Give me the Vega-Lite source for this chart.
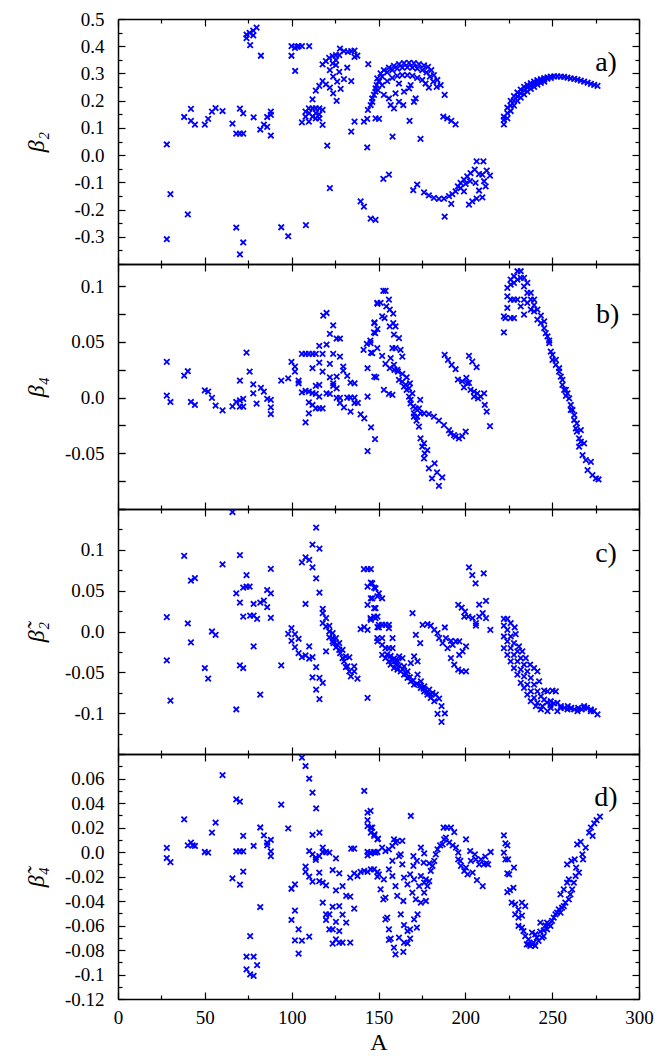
{
"$schema": "https://vega.github.io/schema/vega-lite/v6.json",
"padding": {"left": 24, "top": 10, "right": 25, "bottom": 0},
"config": {
 "view": {"stroke": null},
 "font": "Liberation Serif",
 "axis": {"grid": false, "domainColor": "black", "domainWidth": 1.5, "tickColor": "black", "tickWidth": 1.2,
  "labelColor": "black", "labelFont": "Liberation Serif", "labelFontSize": 19, "labelFlush": false, "labelOverlap": false,
  "titleColor": "black", "titleFont": "Liberation Serif", "titleFontSize": 24, "titleFontWeight": "normal"},
 "axisLeft": {"minExtent": 58, "maxExtent": 58, "labelPadding": 14, "titlePadding": 12, "labelFont": "Liberation Serif", "titleFont": "Liberation Serif"},
 "axisBottom": {"labelPadding": 9, "titlePadding": 3, "labelFont": "Liberation Serif", "titleFont": "Liberation Serif"}
},
"datasets": {
"a": [
{"A":28.1,"v":0.039},{"A":28.1,"v":-0.309},{"A":30.2,"v":-0.143},{"A":38.1,"v":0.140},{"A":40.2,"v":-0.218},{"A":42.0,"v":0.170},{"A":42.0,"v":0.126},{"A":44.3,"v":0.112},{"A":50.0,"v":0.112},{"A":51.9,"v":0.133},{"A":54.1,"v":0.160},{"A":56.2,"v":0.173},{"A":60.2,"v":0.162},{"A":65.9,"v":0.116},{"A":68.1,"v":-0.266},{"A":68.1,"v":0.079},{"A":70.2,"v":0.171},{"A":70.2,"v":0.079},{"A":72.1,"v":0.079},{"A":72.1,"v":0.153},{"A":70.2,"v":-0.365},{"A":72.1,"v":-0.321},{"A":78.1,"v":0.139},{"A":81.9,"v":0.094},{"A":84.0,"v":0.112},{"A":85.9,"v":0.104},{"A":85.9,"v":0.140},{"A":88.0,"v":0.148},{"A":88.0,"v":0.160},{"A":88.0,"v":0.072},{"A":94.0,"v":-0.265},{"A":98.0,"v":-0.298},{"A":108.2,"v":-0.257},
{"A":74.0,"v":0.443},{"A":74.0,"v":0.430},{"A":75.8,"v":0.449},{"A":77.9,"v":0.440},{"A":77.9,"v":0.457},{"A":79.8,"v":0.468},{"A":76.1,"v":0.404},{"A":82.3,"v":0.365},
{"A":99.9,"v":0.365},{"A":99.9,"v":0.400},{"A":101.9,"v":0.394},{"A":104.0,"v":0.400},{"A":105.9,"v":0.400},{"A":110.1,"v":0.400},{"A":102.0,"v":0.309},{"A":103.2,"v":0.398},
{"A":112.0,"v":0.205},{"A":105.9,"v":0.120},{"A":108.0,"v":0.160},{"A":109.9,"v":0.172},{"A":112.0,"v":0.172},{"A":113.9,"v":0.172},{"A":115.9,"v":0.172},{"A":117.8,"v":0.166},{"A":108.0,"v":0.141},{"A":109.9,"v":0.123},{"A":112.0,"v":0.141},{"A":113.9,"v":0.135},{"A":115.9,"v":0.135},{"A":117.8,"v":0.111},{"A":110.1,"v":0.154},{"A":113.9,"v":0.154},{"A":115.9,"v":0.150},
{"A":113.9,"v":0.237},{"A":115.9,"v":0.254},{"A":117.8,"v":0.272},
{"A":117.8,"v":0.333},{"A":119.7,"v":0.345},{"A":121.6,"v":0.357},{"A":123.6,"v":0.364},{"A":125.5,"v":0.367},{"A":127.4,"v":0.367},{"A":127.8,"v":0.391},{"A":130.1,"v":0.382},{"A":132.4,"v":0.379},{"A":134.3,"v":0.382},{"A":136.2,"v":0.384},{"A":137.8,"v":0.365},{"A":136.2,"v":0.361},
{"A":122.0,"v":0.312},{"A":123.9,"v":0.288},{"A":125.5,"v":0.331},{"A":126.2,"v":0.270},{"A":127.4,"v":0.306},{"A":128.2,"v":0.243},{"A":130.1,"v":0.279},{"A":132.0,"v":0.321},{"A":134.3,"v":0.272},{"A":119.7,"v":0.260},{"A":122.0,"v":0.248},{"A":123.9,"v":0.227},{"A":125.9,"v":0.199},{"A":123.6,"v":0.337},{"A":125.5,"v":0.349},
{"A":120.5,"v":0.035},{"A":122.0,"v":-0.121},{"A":134.3,"v":0.086},{"A":136.2,"v":0.123},{"A":139.7,"v":-0.170},{"A":141.6,"v":-0.189},{"A":145.5,"v":-0.233},{"A":148.3,"v":-0.238},{"A":143.5,"v":0.028},{"A":144.1,"v":0.334},{"A":141.6,"v":0.123},{"A":143.5,"v":0.133},{"A":148.3,"v":0.135},{"A":150.3,"v":0.133},
{"A":143.9,"v":0.166},{"A":145.5,"v":0.184},{"A":146.4,"v":0.196},{"A":146.4,"v":0.208},{"A":148.3,"v":0.233},{"A":148.9,"v":0.257},{"A":150.3,"v":0.272},
{"A":149.3,"v":0.282},{"A":151.2,"v":0.300},{"A":153.1,"v":0.312},{"A":156.0,"v":0.321},{"A":158.9,"v":0.328},{"A":161.8,"v":0.334},{"A":164.7,"v":0.338},{"A":167.6,"v":0.339},{"A":170.4,"v":0.338},{"A":173.3,"v":0.334},{"A":176.2,"v":0.330},{"A":178.5,"v":0.324},{"A":180.4,"v":0.312},{"A":181.9,"v":0.294},{"A":183.9,"v":0.276},{"A":185.8,"v":0.257},{"A":188.1,"v":0.221},
{"A":148.3,"v":0.245},{"A":150.2,"v":0.270},{"A":152.1,"v":0.288},{"A":155.0,"v":0.304},{"A":157.9,"v":0.312},{"A":160.8,"v":0.318},{"A":163.7,"v":0.321},{"A":166.6,"v":0.322},{"A":169.5,"v":0.321},{"A":172.3,"v":0.318},{"A":175.2,"v":0.312},{"A":177.7,"v":0.304},{"A":179.6,"v":0.288},{"A":181.5,"v":0.270},{"A":183.5,"v":0.251},
{"A":147.4,"v":0.221},{"A":149.7,"v":0.239},{"A":152.1,"v":0.257},{"A":155.0,"v":0.272},{"A":157.9,"v":0.284},{"A":160.8,"v":0.291},{"A":163.7,"v":0.294},{"A":166.6,"v":0.294},{"A":169.5,"v":0.291},{"A":172.3,"v":0.284},{"A":175.2,"v":0.276},{"A":177.1,"v":0.263},{"A":179.0,"v":0.248},
{"A":153.1,"v":0.221},{"A":156.0,"v":0.208},{"A":158.9,"v":0.172},{"A":159.8,"v":0.227},{"A":161.8,"v":0.196},{"A":164.3,"v":0.184},{"A":164.7,"v":0.233},{"A":167.6,"v":0.245},{"A":170.4,"v":0.196},{"A":171.4,"v":0.208},{"A":168.5,"v":0.257},{"A":157.0,"v":0.184},{"A":161.8,"v":0.263},
{"A":167.9,"v":0.126},{"A":158.1,"v":0.068},{"A":174.2,"v":0.060},{"A":187.3,"v":0.141},{"A":189.6,"v":0.135},{"A":191.9,"v":0.126},{"A":194.4,"v":0.113},
{"A":152.8,"v":-0.087},{"A":156.0,"v":-0.072},{"A":170.0,"v":-0.129},{"A":172.3,"v":-0.108},{"A":176.2,"v":-0.137},{"A":179.0,"v":-0.148},{"A":181.9,"v":-0.157},{"A":184.8,"v":-0.161},{"A":187.7,"v":-0.160},{"A":190.6,"v":-0.151},{"A":192.5,"v":-0.143},{"A":194.4,"v":-0.133},{"A":195.7,"v":-0.115},{"A":197.3,"v":-0.102},{"A":199.2,"v":-0.090},{"A":201.1,"v":-0.078},{"A":203.0,"v":-0.066},{"A":205.4,"v":-0.053},{"A":206.5,"v":-0.023},{"A":210.4,"v":-0.023},{"A":191.9,"v":-0.179},{"A":188.1,"v":-0.226},{"A":202.1,"v":-0.182},{"A":204.0,"v":-0.170},{"A":206.5,"v":-0.160},{"A":209.8,"v":-0.155},{"A":207.9,"v":-0.130},{"A":210.8,"v":-0.096},{"A":211.7,"v":-0.115},{"A":212.3,"v":-0.057},{"A":214.2,"v":-0.075},{"A":207.9,"v":-0.070},{"A":202.7,"v":-0.096},{"A":200.2,"v":-0.106},{"A":205.9,"v":-0.102},{"A":209.8,"v":-0.072},{"A":197.3,"v":-0.121},{"A":199.2,"v":-0.133},
{"A":222.2,"v":0.141},{"A":224.2,"v":0.174},{"A":226.1,"v":0.199},{"A":228.0,"v":0.217},{"A":230.0,"v":0.230},{"A":231.9,"v":0.241},{"A":233.8,"v":0.251},{"A":235.7,"v":0.258},{"A":237.7,"v":0.264},{"A":239.6,"v":0.270},{"A":241.5,"v":0.275},{"A":243.5,"v":0.279},{"A":245.4,"v":0.283},{"A":247.3,"v":0.286},{"A":249.2,"v":0.288},{"A":251.2,"v":0.289},{"A":253.0,"v":0.289},{"A":255.0,"v":0.288},{"A":256.9,"v":0.287},{"A":258.8,"v":0.285},{"A":260.7,"v":0.282},{"A":262.7,"v":0.280},{"A":264.6,"v":0.277},{"A":266.5,"v":0.274},{"A":268.4,"v":0.270},{"A":270.4,"v":0.266},{"A":272.3,"v":0.262},{"A":274.2,"v":0.258},{"A":276.1,"v":0.254},
{"A":222.2,"v":0.129},{"A":224.2,"v":0.154},{"A":226.1,"v":0.182},{"A":228.0,"v":0.199},{"A":230.0,"v":0.215},{"A":231.9,"v":0.227},{"A":233.8,"v":0.238},{"A":235.7,"v":0.248},{"A":237.7,"v":0.255},{"A":239.6,"v":0.262},{"A":241.5,"v":0.268},{"A":243.5,"v":0.273},{"A":245.4,"v":0.277},{"A":247.3,"v":0.281},{"A":249.2,"v":0.284},
{"A":222.2,"v":0.113},{"A":224.2,"v":0.135},{"A":226.1,"v":0.162},{"A":228.0,"v":0.182},{"A":230.0,"v":0.199},{"A":231.9,"v":0.211},{"A":233.8,"v":0.223},{"A":235.7,"v":0.233},{"A":237.7,"v":0.243},{"A":239.6,"v":0.251},{"A":241.5,"v":0.259},{"A":243.5,"v":0.265},{"A":245.4,"v":0.270}
],
"b": [
{"A":28.1,"v":0.0322},{"A":28.1,"v":0.0018},{"A":30.2,"v":-0.0039},{"A":38.1,"v":0.0198},{"A":40.2,"v":0.0237},{"A":42.0,"v":-0.0039},{"A":44.3,"v":-0.0066},{"A":50.0,"v":0.0066},{"A":51.9,"v":0.0054},{"A":54.1,"v":-0.0003},{"A":56.2,"v":-0.0072},{"A":60.2,"v":-0.0114},{"A":65.9,"v":-0.0078},{"A":68.1,"v":-0.0039},{"A":70.2,"v":-0.0024},{"A":70.2,"v":-0.0081},{"A":72.1,"v":-0.0012},{"A":72.1,"v":-0.0081},{"A":70.2,"v":0.0153},{"A":74.0,"v":0.0405},{"A":75.8,"v":0.0234},{"A":77.9,"v":0.0120},{"A":77.9,"v":0.0039},{"A":79.8,"v":-0.0054},{"A":82.3,"v":0.0087},{"A":84.0,"v":0.0054},{"A":85.9,"v":-0.0012},{"A":88.0,"v":-0.0021},{"A":88.0,"v":-0.0087},{"A":88.0,"v":-0.0147},{"A":94.0,"v":0.0153},{"A":98.0,"v":0.0174},{"A":99.9,"v":0.0322},{"A":101.9,"v":0.0279},{"A":101.9,"v":0.0234},{"A":104.0,"v":0.0153},{"A":104.0,"v":0.0129},{"A":105.9,"v":0.0048},{"A":105.9,"v":0.0393},{"A":108.0,"v":0.0393},{"A":109.9,"v":0.0393},{"A":112.0,"v":0.0393},{"A":113.9,"v":0.0393},{"A":108.0,"v":-0.0222},{"A":109.9,"v":-0.0141},{"A":109.9,"v":-0.0042},{"A":112.0,"v":-0.0066},{"A":108.0,"v":0.006},{"A":109.9,"v":0.0055},{"A":112.0,"v":0.004},{"A":113.9,"v":0.0033},{"A":113.9,"v":0.0105},{"A":115.9,"v":0.0114},{"A":115.9,"v":0.0009},{"A":113.9,"v":-0.0096},{"A":115.9,"v":-0.0096},{"A":117.8,"v":-0.0096},{"A":112.0,"v":0.0264},{"A":115.9,"v":0.0315},{"A":115.9,"v":0.0465},{"A":117.8,"v":0.0393},{"A":117.8,"v":0.0234},{"A":118.2,"v":0.0736},{"A":120.1,"v":0.0760},{"A":120.1,"v":0.0477},{"A":122.0,"v":0.0573},{"A":123.9,"v":0.0648},{"A":123.9,"v":0.0393},{"A":122.0,"v":0.0303},{"A":122.0,"v":0.0183},{"A":120.1,"v":0.0039},{"A":122.0,"v":0.0033},{"A":123.9,"v":0.0129},{"A":123.9,"v":0.0105},{"A":125.9,"v":0.0531},{"A":127.8,"v":0.0531},{"A":127.8,"v":0.0369},{"A":125.9,"v":0.0189},{"A":125.9,"v":0.0084},{"A":125.9,"v":-0.0003},{"A":127.8,"v":-0.0003},{"A":127.8,"v":-0.0048},{"A":129.7,"v":0.0279},{"A":129.7,"v":0.0243},{"A":132.0,"v":0.0195},{"A":133.9,"v":0.0135},{"A":136.2,"v":0.0129},{"A":132.0,"v":0.0},{"A":133.9,"v":0.0},{"A":136.2,"v":0.0},{"A":133.9,"v":-0.0126},{"A":136.2,"v":-0.0048},{"A":138.1,"v":-0.0048},{"A":130.1,"v":-0.0087},{"A":139.7,"v":-0.0150},{"A":141.8,"v":-0.0186},{"A":145.7,"v":-0.0267},{"A":148.0,"v":-0.0372},{"A":143.7,"v":-0.0480},{"A":143.7,"v":0.0009},{"A":143.7,"v":0.0264},{"A":141.4,"v":0.0429},{"A":143.3,"v":0.0483},{"A":145.3,"v":0.0513},{"A":145.7,"v":0.0405},{"A":147.6,"v":0.0669},{"A":148.1,"v":0.0579},{"A":149.4,"v":0.0843},{"A":149.4,"v":0.0615},{"A":148.7,"v":0.0183},{"A":147.6,"v":0.0189},
{"A":149.3,"v":0.0850},{"A":151.2,"v":0.0850},{"A":152.8,"v":0.0958},{"A":154.1,"v":0.0958},{"A":156.0,"v":0.0880},{"A":154.5,"v":0.0820},{"A":156.5,"v":0.0790},{"A":158.5,"v":0.0754},{"A":158.5,"v":0.0670},{"A":159.8,"v":0.0640},{"A":153.5,"v":0.0715},{"A":152.1,"v":0.0730},{"A":147.7,"v":0.0676},{"A":147.4,"v":0.0586},{"A":145.4,"v":0.0489},{"A":146.4,"v":0.0399},{"A":149.3,"v":0.0444},{"A":152.1,"v":0.0375},{"A":154.0,"v":0.0303},{"A":156.5,"v":0.0264},{"A":159.2,"v":0.0249},{"A":161.2,"v":0.0234},{"A":163.7,"v":0.0213},{"A":166.2,"v":0.0183},{"A":168.1,"v":0.0129},{"A":156.5,"v":0.0640},{"A":158.9,"v":0.0565},{"A":161.8,"v":0.0535},{"A":158.0,"v":0.0444},{"A":159.8,"v":0.0444},{"A":162.7,"v":0.0429},{"A":163.7,"v":0.0369},{"A":157.0,"v":0.0354},{"A":158.9,"v":0.0294},{"A":160.8,"v":0.0249},{"A":161.8,"v":0.0159},{"A":163.7,"v":0.0144},{"A":165.6,"v":0.0114},{"A":167.6,"v":0.0084},{"A":169.5,"v":0.0039},{"A":168.5,"v":-0.0021},{"A":170.0,"v":-0.0081},{"A":170.4,"v":-0.0141},{"A":172.3,"v":-0.0171},{"A":174.2,"v":-0.0141},{"A":176.2,"v":-0.0141},{"A":179.0,"v":-0.0147},{"A":181.9,"v":-0.0171},{"A":184.8,"v":-0.0207},{"A":187.7,"v":-0.0246},{"A":190.6,"v":-0.0291},{"A":193.5,"v":-0.0336},{"A":196.3,"v":-0.0366},{"A":198.2,"v":-0.0345},{"A":200.2,"v":-0.0306},{"A":194.4,"v":-0.0351},{"A":191.5,"v":-0.0321},{"A":171.9,"v":-0.0207},{"A":173.3,"v":-0.0261},{"A":174.2,"v":-0.0366},{"A":176.2,"v":-0.0411},{"A":175.2,"v":-0.0441},{"A":178.1,"v":-0.0471},{"A":176.6,"v":-0.0501},{"A":176.2,"v":-0.0546},{"A":179.0,"v":-0.0636},{"A":182.3,"v":-0.0591},{"A":180.8,"v":-0.0726},{"A":183.7,"v":-0.0672},{"A":184.8,"v":-0.0792},{"A":186.7,"v":-0.0717},{"A":168.5,"v":-0.0051},{"A":167.6,"v":0.0009},{"A":166.2,"v":0.0069},{"A":164.7,"v":0.0099},{"A":174.0,"v":-0.0021},{"A":171.4,"v":-0.0096},{"A":173.3,"v":-0.0096},{"A":170.4,"v":-0.0171},{"A":153.1,"v":0.0069},{"A":156.0,"v":0.0033},{"A":158.0,"v":0.0024},
{"A":188.1,"v":0.0384},{"A":190.0,"v":0.0339},{"A":192.1,"v":0.0294},{"A":194.4,"v":0.0255},{"A":202.1,"v":0.0375},{"A":204.0,"v":0.0324},{"A":206.5,"v":0.0273},{"A":195.7,"v":0.0162},{"A":198.2,"v":0.0147},{"A":200.6,"v":0.0177},{"A":202.1,"v":0.0132},{"A":203.0,"v":0.0069},{"A":205.0,"v":0.0054},{"A":206.9,"v":0.0039},{"A":208.8,"v":0.0009},{"A":210.8,"v":0.0039},{"A":211.2,"v":-0.0066},{"A":212.3,"v":-0.0126},{"A":214.2,"v":-0.0255},{"A":199.2,"v":0.0093},{"A":201.1,"v":0.0129},{"A":205.0,"v":0.0009},{"A":207.3,"v":-0.0006},
{"A":222.2,"v":0.0586},{"A":222.2,"v":0.0730},{"A":223.1,"v":0.0715},{"A":224.2,"v":0.0985},{"A":224.2,"v":0.0910},{"A":224.2,"v":0.0805},{"A":226.1,"v":0.1015},{"A":226.1,"v":0.0880},{"A":226.1,"v":0.0715},{"A":226.1,"v":0.1060},{"A":228.0,"v":0.1090},{"A":228.0,"v":0.1030},{"A":228.0,"v":0.0715},{"A":228.0,"v":0.0880},{"A":230.0,"v":0.1135},{"A":230.0,"v":0.1060},{"A":230.0,"v":0.0880},{"A":231.9,"v":0.1135},{"A":231.9,"v":0.1075},{"A":231.9,"v":0.0820},{"A":233.8,"v":0.1075},{"A":233.8,"v":0.1000},{"A":233.8,"v":0.0745},{"A":233.8,"v":0.0880},{"A":235.7,"v":0.1030},{"A":235.7,"v":0.0940},{"A":235.7,"v":0.0850},{"A":237.7,"v":0.0940},{"A":237.7,"v":0.0790},{"A":237.7,"v":0.0880},{"A":239.6,"v":0.0880},{"A":239.6,"v":0.0775},{"A":239.6,"v":0.0830},{"A":241.5,"v":0.0790},{"A":241.5,"v":0.0700},{"A":243.5,"v":0.0670},{"A":243.5,"v":0.0736},{"A":245.4,"v":0.0625},{"A":246.3,"v":0.0580},{"A":248.3,"v":0.0489},{"A":248.3,"v":0.0513},{"A":249.2,"v":0.0414},{"A":250.2,"v":0.0384},{"A":252.1,"v":0.0339},{"A":252.1,"v":0.0294},{"A":254.0,"v":0.0234},{"A":255.0,"v":0.0189},{"A":255.9,"v":0.0114},{"A":255.9,"v":0.0159},{"A":257.9,"v":0.0069},{"A":257.9,"v":0.0015},{"A":259.8,"v":-0.0006},{"A":260.7,"v":-0.0066},{"A":260.7,"v":-0.0111},{"A":262.7,"v":-0.0156},{"A":262.7,"v":-0.0201},{"A":264.2,"v":-0.0231},{"A":264.2,"v":-0.0306},{"A":265.5,"v":-0.0366},{"A":266.5,"v":-0.0396},{"A":265.5,"v":-0.0441},{"A":267.5,"v":-0.0516},{"A":269.4,"v":-0.0561},{"A":270.4,"v":-0.0651},{"A":272.3,"v":-0.0576},{"A":273.2,"v":-0.0696},{"A":275.2,"v":-0.0726},{"A":276.7,"v":-0.0735},{"A":258.8,"v":0.0039},{"A":261.7,"v":-0.0111},{"A":256.9,"v":0.0069},{"A":254.0,"v":0.0264},{"A":250.2,"v":0.0339},{"A":247.3,"v":0.0550},{"A":245.4,"v":0.0685},{"A":263.6,"v":-0.0276},{"A":266.5,"v":-0.0291},{"A":268.4,"v":-0.0411}
],
"c": [
{"A":28.1,"v":0.0175},{"A":28.1,"v":-0.0354},{"A":30.2,"v":-0.0846},{"A":38.1,"v":0.0927},{"A":40.2,"v":0.0098},{"A":42.0,"v":0.0622},{"A":44.3,"v":0.0654},{"A":42.0,"v":-0.0134},{"A":50.0,"v":-0.0447},{"A":51.9,"v":-0.0577},{"A":54.1,"v":0.0},{"A":56.2,"v":-0.0041},{"A":60.2,"v":0.0821},{"A":65.9,"v":0.1463},{"A":68.1,"v":0.0467},{"A":68.1,"v":-0.0955},{"A":70.2,"v":0.0935},{"A":70.2,"v":0.0354},{"A":70.2,"v":-0.0415},{"A":72.1,"v":0.0183},{"A":72.1,"v":-0.0447},{"A":72.1,"v":0.0537},{"A":74.0,"v":0.0691},{"A":74.0,"v":0.0549},{"A":75.8,"v":0.0549},{"A":76.1,"v":0.0195},{"A":78.1,"v":0.0195},{"A":78.1,"v":0.0337},{"A":78.1,"v":-0.0183},{"A":80.1,"v":0.0154},{"A":81.9,"v":0.0354},{"A":81.9,"v":-0.0772},{"A":84.0,"v":0.0378},{"A":85.9,"v":0.0508},{"A":85.9,"v":0.0297},{"A":88.0,"v":0.0467},{"A":88.0,"v":0.0167},{"A":88.0,"v":0.0768},{"A":94.0,"v":-0.0415},{"A":98.0,"v":-0.0028},{"A":99.9,"v":0.0041},{"A":99.9,"v":-0.0114},{"A":101.9,"v":-0.0032},{"A":101.9,"v":-0.0191},{"A":104.0,"v":-0.0089},{"A":104.0,"v":-0.0264},{"A":105.9,"v":0.0846},{"A":105.9,"v":-0.0313},{"A":108.0,"v":0.0907},{"A":108.0,"v":0.0337},{"A":108.0,"v":-0.0293},{"A":110.1,"v":0.0878},{"A":110.1,"v":-0.0183},{"A":110.1,"v":-0.0333},{"A":112.0,"v":0.1065},{"A":112.0,"v":0.0785},{"A":112.0,"v":-0.0313},{"A":112.0,"v":-0.0561},{"A":114.1,"v":0.1272},{"A":114.1,"v":0.0650},{"A":114.1,"v":-0.0435},{"A":114.1,"v":-0.0711},{"A":116.0,"v":0.1016},{"A":116.0,"v":0.0475},{"A":116.0,"v":-0.0569},{"A":116.0,"v":-0.0829},{"A":117.9,"v":0.0276},{"A":117.9,"v":0.0224},{"A":117.9,"v":0.0102},{"A":117.9,"v":-0.0630},{"A":119.8,"v":0.0163},{"A":119.8,"v":0.0061},{"A":119.8,"v":-0.0244},{"A":121.7,"v":0.0069},{"A":121.7,"v":-0.0073},{"A":121.7,"v":0.0},{"A":123.6,"v":-0.0020},{"A":123.6,"v":-0.0081},{"A":123.6,"v":-0.0122},{"A":125.5,"v":-0.0081},{"A":125.5,"v":-0.0195},{"A":127.4,"v":-0.0142},{"A":127.4,"v":-0.0224},{"A":129.3,"v":-0.0224},{"A":129.3,"v":-0.0325},{"A":131.2,"v":-0.0305},{"A":131.2,"v":-0.0435},{"A":133.2,"v":-0.0317},{"A":133.2,"v":-0.0488},{"A":134.1,"v":-0.0549},{"A":136.0,"v":-0.0427},{"A":136.0,"v":-0.0488},{"A":137.9,"v":-0.0577},{"A":124.1,"v":-0.0142},{"A":126.4,"v":-0.0163},{"A":127.9,"v":-0.0264},{"A":130.2,"v":-0.0366},{"A":132.1,"v":-0.0427},{"A":139.7,"v":0.0028},{"A":141.8,"v":0.0053},{"A":143.7,"v":0.0020},{"A":143.7,"v":-0.0813},{"A":141.6,"v":0.0764},{"A":143.7,"v":0.0764},{"A":145.6,"v":0.0764},{"A":143.7,"v":0.0549},{"A":145.6,"v":0.0598},{"A":147.5,"v":0.0537},{"A":143.7,"v":0.0325},{"A":145.6,"v":0.0407},{"A":147.5,"v":0.0285},{"A":145.6,"v":0.0142},{"A":147.5,"v":0.0183},{"A":149.4,"v":0.0183},{"A":149.4,"v":0.0053},{"A":149.4,"v":-0.0122},{"A":149.4,"v":0.0431},
{"A":146.4,"v":0.0589},{"A":148.3,"v":0.0528},{"A":150.2,"v":0.0467},{"A":152.1,"v":0.0407},{"A":148.3,"v":0.0285},{"A":146.4,"v":0.0407},{"A":145.4,"v":0.0163},{"A":148.3,"v":0.0163},{"A":150.2,"v":0.0081},{"A":152.1,"v":0.0081},{"A":154.0,"v":0.0081},{"A":156.0,"v":0.0081},{"A":156.0,"v":0.0041},{"A":150.2,"v":0.0049},{"A":149.3,"v":-0.0081},{"A":152.1,"v":-0.0081},{"A":158.1,"v":-0.0081},{"A":152.1,"v":-0.0163},{"A":154.0,"v":-0.0203},{"A":156.0,"v":-0.0203},{"A":158.1,"v":-0.0203},{"A":152.1,"v":-0.0285},{"A":154.0,"v":-0.0325},{"A":156.0,"v":-0.0366},{"A":158.1,"v":-0.0346},{"A":159.9,"v":-0.0366},{"A":161.9,"v":-0.0305},{"A":163.8,"v":-0.0325},{"A":157.0,"v":-0.0407},{"A":158.9,"v":-0.0447},{"A":160.9,"v":-0.0468},{"A":162.8,"v":-0.0488},{"A":164.7,"v":-0.0528},{"A":164.7,"v":-0.0427},{"A":166.7,"v":-0.0488},{"A":166.7,"v":-0.0569},{"A":168.6,"v":-0.0610},{"A":168.6,"v":-0.0386},{"A":170.5,"v":-0.0305},{"A":172.5,"v":-0.0366},{"A":172.5,"v":-0.0528},{"A":170.5,"v":-0.0650},{"A":174.4,"v":-0.0691},{"A":174.4,"v":-0.0610},{"A":176.3,"v":-0.0732},{"A":176.3,"v":-0.0671},{"A":178.2,"v":-0.0772},{"A":179.2,"v":-0.0711},{"A":180.1,"v":-0.0813},{"A":181.1,"v":-0.0752},{"A":182.1,"v":-0.0854},{"A":183.0,"v":-0.0772},{"A":184.0,"v":-0.1008},{"A":184.9,"v":-0.0821},{"A":186.3,"v":-0.0915},{"A":186.3,"v":-0.1106},{"A":188.2,"v":-0.1004},
{"A":160.0,"v":-0.0400},{"A":162.0,"v":-0.0420},{"A":164.0,"v":-0.0460},{"A":166.0,"v":-0.0520},{"A":168.0,"v":-0.0560},{"A":170.0,"v":-0.0600},{"A":172.0,"v":-0.0640},{"A":174.0,"v":-0.0660},{"A":176.0,"v":-0.0700},{"A":178.0,"v":-0.0740},{"A":180.0,"v":-0.0770},{"A":155.0,"v":-0.0280},{"A":157.0,"v":-0.0300},{"A":159.0,"v":-0.0330},{"A":161.0,"v":-0.0360},
{"A":169.6,"v":0.0224},{"A":171.5,"v":-0.0041},{"A":174.0,"v":-0.0142},{"A":175.4,"v":0.0081},{"A":178.2,"v":0.0089},{"A":180.1,"v":0.0073},{"A":182.1,"v":0.0020},{"A":184.0,"v":-0.0020},{"A":184.9,"v":-0.0081},{"A":186.9,"v":-0.0142},{"A":188.2,"v":0.0049},{"A":188.8,"v":-0.0081},{"A":189.8,"v":-0.0203},{"A":191.7,"v":-0.0114},{"A":191.7,"v":-0.0325},{"A":192.7,"v":-0.0163},{"A":193.6,"v":-0.0407},{"A":194.6,"v":-0.0122},{"A":195.9,"v":-0.0468},{"A":196.5,"v":-0.0285},{"A":196.5,"v":-0.0122},{"A":197.9,"v":-0.0488},{"A":198.4,"v":-0.0244},{"A":200.4,"v":-0.0488},{"A":200.4,"v":-0.0183},{"A":195.9,"v":0.0325},{"A":197.9,"v":0.0293},{"A":199.8,"v":0.0244},{"A":201.7,"v":0.0183},{"A":199.4,"v":0.0183},{"A":204.2,"v":0.0163},{"A":206.1,"v":0.0102},{"A":208.0,"v":0.0183},{"A":206.1,"v":0.0073},{"A":210.0,"v":0.0224},{"A":211.9,"v":0.0163},{"A":211.9,"v":0.0374},{"A":214.4,"v":0.0020},{"A":208.0,"v":0.0329},{"A":202.1,"v":0.0785},{"A":204.0,"v":0.0691},{"A":205.9,"v":0.0589},{"A":210.6,"v":0.0711},
{"A":222.2,"v":0.0154},{"A":224.2,"v":0.0154},{"A":226.1,"v":0.0102},{"A":228.4,"v":0.0049},{"A":229.0,"v":-0.0033},{"A":230.9,"v":-0.0183},{"A":232.8,"v":-0.0244},{"A":234.8,"v":-0.0325},{"A":237.3,"v":-0.0407},{"A":239.6,"v":-0.0447},{"A":241.5,"v":-0.0488},{"A":242.5,"v":-0.0610},{"A":245.4,"v":-0.0724},{"A":247.3,"v":-0.0732},{"A":250.2,"v":-0.0724},{"A":252.1,"v":-0.0732},
{"A":222.2,"v":0.0073},{"A":224.2,"v":0.0020},{"A":226.1,"v":-0.0061},{"A":228.0,"v":-0.0142},{"A":230.0,"v":-0.0244},{"A":231.9,"v":-0.0325},{"A":233.8,"v":-0.0407},{"A":235.7,"v":-0.0488},{"A":237.7,"v":-0.0569},{"A":239.6,"v":-0.0650},{"A":241.5,"v":-0.0732},{"A":243.5,"v":-0.0793},{"A":245.4,"v":-0.0834},{"A":249.2,"v":-0.0854},{"A":253.0,"v":-0.0874},
{"A":222.2,"v":-0.0061},{"A":224.2,"v":-0.0122},{"A":226.1,"v":-0.0203},{"A":228.0,"v":-0.0285},{"A":230.0,"v":-0.0366},{"A":231.9,"v":-0.0468},{"A":233.8,"v":-0.0549},{"A":235.7,"v":-0.0650},{"A":237.7,"v":-0.0732},{"A":239.6,"v":-0.0813},{"A":241.5,"v":-0.0874},{"A":244.4,"v":-0.0915},{"A":249.2,"v":-0.0935},{"A":255.0,"v":-0.0935},{"A":260.7,"v":-0.0943},{"A":264.6,"v":-0.0976},{"A":268.4,"v":-0.0915},{"A":272.3,"v":-0.0976},{"A":276.1,"v":-0.1016},
{"A":222.2,"v":-0.0203},{"A":224.2,"v":-0.0285},{"A":226.1,"v":-0.0366},{"A":228.0,"v":-0.0447},{"A":230.0,"v":-0.0528},{"A":231.9,"v":-0.0630},{"A":233.8,"v":-0.0691},{"A":235.7,"v":-0.0772},{"A":237.7,"v":-0.0854},{"A":240.6,"v":-0.0915},{"A":243.5,"v":-0.0955},{"A":247.3,"v":-0.0976},{"A":253.0,"v":-0.0976},{"A":258.8,"v":-0.0955},{"A":262.7,"v":-0.0955},{"A":268.4,"v":-0.0935},{"A":272.3,"v":-0.0955},
{"A":255.0,"v":-0.0915},{"A":257.0,"v":-0.0935},{"A":259.0,"v":-0.0915},{"A":261.0,"v":-0.0935},{"A":265.0,"v":-0.0935},{"A":267.0,"v":-0.0955},{"A":270.0,"v":-0.0935},{"A":274.0,"v":-0.0976},{"A":249.0,"v":-0.0900},{"A":251.0,"v":-0.0880},{"A":247.0,"v":-0.0870}
],
"d": [
{"A":28.1,"v":0.0033},{"A":28.1,"v":-0.0049},{"A":30.2,"v":-0.0082},{"A":38.1,"v":0.0267},{"A":40.2,"v":0.0054},{"A":42.0,"v":0.0076},{"A":43.0,"v":0.0054},{"A":44.3,"v":0.0049},{"A":50.0,"v":0.0},{"A":51.9,"v":-0.0005},{"A":54.1,"v":0.0158},{"A":56.2,"v":0.0239},{"A":60.2,"v":0.0628},{"A":65.9,"v":-0.0215},{"A":68.1,"v":0.0430},{"A":70.2,"v":0.0411},{"A":68.1,"v":0.0005},{"A":70.2,"v":0.0005},{"A":72.1,"v":0.0005},{"A":70.2,"v":-0.0267},{"A":72.1,"v":0.0131},{"A":72.1,"v":-0.0160},{"A":74.0,"v":-0.0855},{"A":74.0,"v":-0.0958},{"A":76.1,"v":-0.0686},{"A":76.1,"v":-0.0999},{"A":78.1,"v":-0.0855},{"A":78.1,"v":-0.1012},{"A":80.1,"v":-0.0923},{"A":78.1,"v":0.0049},{"A":81.9,"v":0.0200},{"A":84.0,"v":0.0136},{"A":85.9,"v":0.0054},{"A":85.9,"v":0.0076},{"A":88.0,"v":0.0098},{"A":88.0,"v":0.0005},{"A":88.0,"v":-0.0033},{"A":81.9,"v":-0.0449},{"A":94.0,"v":0.0386},{"A":98.0,"v":0.0193},{"A":99.9,"v":-0.0300},{"A":101.9,"v":-0.0264},{"A":99.9,"v":-0.0555},{"A":101.9,"v":-0.0479},{"A":101.9,"v":-0.0721},{"A":104.0,"v":-0.0631},{"A":104.0,"v":-0.0830},{"A":105.9,"v":-0.0724},{"A":105.9,"v":0.0770},{"A":108.0,"v":0.0702},{"A":110.1,"v":0.0598},{"A":112.0,"v":0.0484},{"A":114.1,"v":0.0356},{"A":112.0,"v":0.0139},{"A":116.0,"v":0.0158},{"A":110.1,"v":-0.0691},{"A":108.0,"v":-0.0120},{"A":108.0,"v":-0.0163},{"A":110.1,"v":-0.0202},{"A":110.1,"v":0.0008},{"A":112.0,"v":-0.0019},{"A":112.0,"v":-0.0242},{"A":113.9,"v":-0.0046},{"A":113.9,"v":-0.0065},{"A":115.9,"v":-0.0033},{"A":115.9,"v":-0.0169},{"A":115.9,"v":-0.0237},{"A":117.9,"v":0.0035},{"A":117.9,"v":0.0},{"A":119.8,"v":0.0},{"A":121.7,"v":-0.0005},{"A":117.9,"v":-0.0251},{"A":117.9,"v":-0.0414},{"A":119.8,"v":-0.0272},{"A":119.8,"v":-0.0509},{"A":119.8,"v":-0.0555},{"A":121.7,"v":-0.0509},{"A":121.7,"v":-0.0631},{"A":123.6,"v":-0.0147},{"A":123.6,"v":-0.0447},{"A":123.6,"v":-0.0631},{"A":123.6,"v":-0.0748},{"A":125.5,"v":-0.0052},{"A":125.5,"v":-0.0313},{"A":125.5,"v":-0.0571},{"A":125.5,"v":-0.0713},{"A":127.4,"v":-0.0174},{"A":127.4,"v":-0.0441},{"A":127.4,"v":-0.0645},{"A":127.4,"v":-0.0740},{"A":129.3,"v":-0.0278},{"A":129.3,"v":-0.0512},{"A":129.3,"v":-0.0740},{"A":131.4,"v":-0.0359},{"A":131.4,"v":-0.0577},{"A":133.7,"v":-0.0365},{"A":133.7,"v":-0.0740},{"A":133.7,"v":-0.0210},{"A":136.0,"v":-0.0174},{"A":136.0,"v":-0.0463},{"A":134.3,"v":0.0027},{"A":136.0,"v":0.0027},{"A":137.9,"v":-0.0196},{"A":139.7,"v":-0.0163},{"A":141.8,"v":0.0498},{"A":143.7,"v":0.0321},{"A":143.7,"v":0.0261},{"A":143.7,"v":0.0212},{"A":145.6,"v":0.0199},{"A":145.6,"v":0.0158},{"A":147.5,"v":0.0131},{"A":149.4,"v":0.0103},{"A":143.7,"v":0.0},{"A":143.7,"v":-0.0027},{"A":145.6,"v":-0.0011},{"A":147.5,"v":0.0},{"A":149.4,"v":0.0},{"A":145.6,"v":-0.0141},{"A":143.7,"v":-0.0163},{"A":141.8,"v":-0.0155},{"A":149.4,"v":-0.0163},{"A":149.4,"v":-0.0201},
{"A":145.4,"v":0.0335},{"A":146.4,"v":0.0199},{"A":147.7,"v":0.0144},{"A":149.7,"v":0.0109},{"A":145.4,"v":-0.0005},{"A":148.3,"v":-0.0005},{"A":147.4,"v":-0.0141},{"A":150.2,"v":-0.0182},{"A":152.1,"v":0.0035},{"A":154.0,"v":0.0008},{"A":156.0,"v":0.0022},{"A":158.0,"v":0.0049},{"A":158.9,"v":0.0103},{"A":153.1,"v":-0.0223},{"A":151.2,"v":-0.0305},{"A":152.8,"v":-0.0386},{"A":154.0,"v":-0.0373},{"A":154.0,"v":-0.0550},{"A":155.0,"v":-0.0536},{"A":156.0,"v":-0.0631},{"A":157.0,"v":-0.0707},{"A":156.0,"v":-0.0718},{"A":158.9,"v":-0.0781},{"A":159.8,"v":-0.0835},{"A":158.0,"v":-0.0073},{"A":156.0,"v":-0.0141},{"A":158.0,"v":-0.0196},{"A":159.8,"v":-0.0278},{"A":160.8,"v":-0.0359},{"A":161.8,"v":-0.0033},{"A":162.8,"v":-0.0019},{"A":159.8,"v":0.0076},{"A":160.8,"v":0.0090},{"A":163.7,"v":0.0090},{"A":163.7,"v":-0.0101},{"A":164.7,"v":-0.0210},{"A":164.3,"v":-0.0400},{"A":162.8,"v":-0.0509},{"A":161.8,"v":-0.0699},{"A":164.3,"v":-0.0816},{"A":164.7,"v":-0.0596},{"A":164.7,"v":-0.0740},{"A":166.7,"v":-0.0645},{"A":166.7,"v":-0.0746},{"A":168.2,"v":-0.0631},{"A":168.2,"v":-0.0707},{"A":166.7,"v":-0.0264},{"A":168.2,"v":-0.0182},{"A":168.6,"v":0.0294},{"A":170.1,"v":-0.0033},{"A":170.1,"v":-0.0114},{"A":169.5,"v":-0.0332},{"A":170.5,"v":-0.0223},{"A":171.5,"v":-0.0386},{"A":170.5,"v":-0.0550},{"A":172.1,"v":-0.0618},{"A":172.5,"v":-0.0509},{"A":173.4,"v":-0.0278},{"A":174.4,"v":0.0035},{"A":174.4,"v":-0.0196},{"A":174.4,"v":-0.0414},{"A":176.0,"v":-0.0087},{"A":176.3,"v":-0.0250},{"A":176.3,"v":-0.0332},{"A":177.3,"v":-0.0223},{"A":178.2,"v":-0.0278},{"A":177.3,"v":-0.0400},{"A":179.2,"v":-0.0237},{"A":180.1,"v":-0.0155},{"A":181.1,"v":-0.0114},{"A":182.1,"v":-0.0073},{"A":183.0,"v":-0.0019},{"A":184.0,"v":0.0022},{"A":185.5,"v":0.0054},{"A":186.9,"v":0.0063},{"A":187.8,"v":0.0103},{"A":187.5,"v":0.0199},{"A":189.4,"v":0.0199},{"A":191.7,"v":0.0199},{"A":193.6,"v":0.0163},{"A":188.8,"v":0.0117},{"A":190.7,"v":0.0076},{"A":192.7,"v":0.0054},{"A":194.6,"v":0.0035},{"A":195.9,"v":-0.0005},{"A":195.9,"v":-0.0060},{"A":197.1,"v":-0.0073},{"A":197.5,"v":-0.0114},{"A":199.4,"v":-0.0155},{"A":200.4,"v":0.0103},{"A":200.4,"v":-0.0128},{"A":201.3,"v":-0.0182},{"A":202.8,"v":0.0008},{"A":203.2,"v":-0.0073},{"A":204.2,"v":-0.0169},{"A":205.5,"v":-0.0019},{"A":206.1,"v":-0.0060},{"A":206.7,"v":-0.0229},{"A":208.0,"v":-0.0101},{"A":209.0,"v":-0.0060},{"A":210.0,"v":-0.0278},{"A":210.6,"v":-0.0101},{"A":211.5,"v":-0.0038},{"A":212.1,"v":-0.0092},{"A":213.1,"v":-0.0101},{"A":214.6,"v":0.0},{"A":172.1,"v":-0.0073},{"A":179.2,"v":-0.0092},{"A":176.3,"v":-0.0011},
{"A":222.2,"v":0.0136},{"A":223.1,"v":0.0071},{"A":224.2,"v":0.0054},{"A":222.2,"v":-0.0005},{"A":223.1,"v":-0.0060},{"A":224.6,"v":-0.0060},{"A":228.0,"v":-0.0128},{"A":224.2,"v":-0.0174},{"A":225.2,"v":-0.0182},{"A":224.2,"v":-0.0327},{"A":225.7,"v":-0.0311},{"A":227.7,"v":-0.0292},{"A":226.7,"v":-0.0414},{"A":228.7,"v":-0.0427},{"A":232.6,"v":-0.0414},{"A":234.5,"v":-0.0441},{"A":228.7,"v":-0.0509},{"A":230.6,"v":-0.0536},{"A":230.6,"v":-0.0604},{"A":232.6,"v":-0.0618},{"A":233.5,"v":-0.0645},{"A":234.5,"v":-0.0686},{"A":236.4,"v":-0.0713},{"A":238.4,"v":-0.0754},{"A":240.3,"v":-0.0767},{"A":235.4,"v":-0.0754},{"A":237.4,"v":-0.0767},{"A":242.2,"v":-0.0726},{"A":244.2,"v":-0.0699},{"A":238.4,"v":-0.0659},{"A":240.3,"v":-0.0673},{"A":243.2,"v":-0.0577},{"A":245.1,"v":-0.0686},{"A":247.1,"v":-0.0631},{"A":247.1,"v":-0.0577},{"A":249.0,"v":-0.0604},{"A":249.9,"v":-0.0563},{"A":250.9,"v":-0.0536},{"A":251.9,"v":-0.0509},{"A":252.8,"v":-0.0495},{"A":253.8,"v":-0.0468},{"A":254.8,"v":-0.0495},{"A":255.7,"v":-0.0455},{"A":256.7,"v":-0.0441},{"A":254.8,"v":-0.0346},{"A":256.7,"v":-0.0305},{"A":258.6,"v":-0.0251},{"A":259.6,"v":-0.0223},{"A":257.6,"v":-0.0414},{"A":259.6,"v":-0.0386},{"A":260.5,"v":-0.0346},{"A":261.5,"v":-0.0305},{"A":262.5,"v":-0.0251},{"A":263.5,"v":-0.0196},{"A":263.8,"v":-0.0128},{"A":265.4,"v":-0.0169},{"A":258.6,"v":-0.0101},{"A":261.1,"v":-0.0073},{"A":263.0,"v":-0.0060},{"A":264.4,"v":0.0063},{"A":266.4,"v":0.0082},{"A":267.4,"v":-0.0019},{"A":267.8,"v":-0.0060},{"A":269.3,"v":0.0035},{"A":271.3,"v":0.0158},{"A":272.3,"v":0.0199},{"A":273.3,"v":0.0131},{"A":274.2,"v":0.0234},{"A":275.6,"v":0.0261},{"A":277.5,"v":0.0289},{"A":236.4,"v":-0.0754},{"A":239.3,"v":-0.0740},{"A":241.2,"v":-0.0700},{"A":245.1,"v":-0.0640},{"A":248.0,"v":-0.0590},{"A":243.2,"v":-0.0650},{"A":246.1,"v":-0.0600},{"A":230.6,"v":-0.0470},{"A":232.6,"v":-0.0520}
]
},
"spacing": 0,
"bounds": "flush",
"vconcat": [
{
 "width": 521, "height": 245,
 "data": {"name": "a"},
 "layer": [
  {"mark": {"type": "point", "shape": "M-1,-1L1,1M-1,1L1,-1", "filled": false, "color": "#0000ff", "strokeWidth": 1.8, "size": 30, "opacity": 1, "clip": true},
   "encoding": {
    "x": {"field": "A", "type": "quantitative", "scale": {"domain": [0, 300], "nice": false, "zero": false}, "axis": {"orient": "bottom", "ticks": false, "labels": false, "title": null, "domain": true}},
    "y": {"field": "v", "type": "quantitative", "scale": {"domain": [-0.4, 0.5], "nice": false, "zero": false}, "axis": {"orient": "left", "ticks": false, "domain": true, "values": [-0.3, -0.2, -0.1, 0, 0.1, 0.2, 0.3, 0.4, 0.5], "labelFont": "Liberation Serif", "labelExpr": "datum.value == 0 ? '0.0' : replace(format(datum.value, '~g'), '\u2212', '-')", "title": "β₂", "titleFont": "Liberation Serif", "titleFontStyle": "italic"}}
   }},
  {"mark": {"type": "point", "opacity": 0},
   "encoding": {
    "x": {"field": "A", "type": "quantitative", "scale": {"domain": [0, 300], "nice": false, "zero": false}, "axis": {"orient": "bottom", "values": [0, 50, 100, 150, 200, 250, 300], "tickSize": -7, "labels": false, "domain": false, "title": null}},
    "y": {"field": "v", "type": "quantitative", "scale": {"domain": [-0.4, 0.5], "nice": false, "zero": false}, "axis": {"orient": "left", "values": [-0.4, -0.3, -0.2, -0.1, 0, 0.1, 0.2, 0.3, 0.4, 0.5], "tickSize": -7, "labels": false, "domain": false, "title": null}}
   }},
  {"mark": {"type": "point", "opacity": 0},
   "encoding": {
    "x": {"field": "A", "type": "quantitative", "scale": {"domain": [0, 300], "nice": false, "zero": false}, "axis": {"orient": "bottom", "values": [25, 75, 125, 175, 225, 275], "tickSize": -4, "labels": false, "domain": false, "title": null}},
    "y": {"field": "v", "type": "quantitative", "scale": {"domain": [-0.4, 0.5], "nice": false, "zero": false}, "axis": {"orient": "left", "values": [-0.35, -0.25, -0.15, -0.05, 0.05, 0.15, 0.25, 0.35, 0.45], "tickSize": -4, "labels": false, "domain": false, "title": null}}
   }},
  {"mark": {"type": "point", "opacity": 0},
   "encoding": {
    "x": {"field": "A", "type": "quantitative", "scale": {"domain": [0, 300], "nice": false, "zero": false}, "axis": {"orient": "top", "values": [0, 50, 100, 150, 200, 250, 300], "tickSize": -7, "labels": false, "domain": true, "title": null}},
    "y": {"field": "v", "type": "quantitative", "scale": {"domain": [-0.4, 0.5], "nice": false, "zero": false}, "axis": {"orient": "right", "values": [-0.4, -0.3, -0.2, -0.1, 0, 0.1, 0.2, 0.3, 0.4, 0.5], "tickSize": -7, "labels": false, "domain": true, "title": null}}
   }},
  {"mark": {"type": "point", "opacity": 0},
   "encoding": {
    "x": {"field": "A", "type": "quantitative", "scale": {"domain": [0, 300], "nice": false, "zero": false}, "axis": {"orient": "top", "values": [25, 75, 125, 175, 225, 275], "tickSize": -4, "labels": false, "domain": false, "title": null}},
    "y": {"field": "v", "type": "quantitative", "scale": {"domain": [-0.4, 0.5], "nice": false, "zero": false}, "axis": {"orient": "right", "values": [-0.35, -0.25, -0.15, -0.05, 0.05, 0.15, 0.25, 0.35, 0.45], "tickSize": -4, "labels": false, "domain": false, "title": null}}
   }},
  {"data": {"values": [{"A": 281, "v": 0.337, "t": "a)"}]},
   "mark": {"type": "text", "font": "Liberation Serif", "fontSize": 28, "align": "center", "baseline": "middle", "color": "black"},
   "encoding": {
    "x": {"field": "A", "type": "quantitative", "scale": {"domain": [0, 300], "nice": false, "zero": false}, "axis": null},
    "y": {"field": "v", "type": "quantitative", "scale": {"domain": [-0.4, 0.5], "nice": false, "zero": false}, "axis": null},
    "text": {"field": "t"}
   }}
 ],
 "resolve": {"axis": {"x": "independent", "y": "independent"}}
},
{
 "width": 521, "height": 245,
 "data": {"name": "b"},
 "layer": [
  {"mark": {"type": "point", "shape": "M-1,-1L1,1M-1,1L1,-1", "filled": false, "color": "#0000ff", "strokeWidth": 1.8, "size": 30, "opacity": 1, "clip": true},
   "encoding": {
    "x": {"field": "A", "type": "quantitative", "scale": {"domain": [0, 300], "nice": false, "zero": false}, "axis": {"orient": "bottom", "ticks": false, "labels": false, "title": null, "domain": true}},
    "y": {"field": "v", "type": "quantitative", "scale": {"domain": [-0.1, 0.12], "nice": false, "zero": false}, "axis": {"orient": "left", "ticks": false, "domain": true, "values": [-0.05, 0, 0.05, 0.1], "labelFont": "Liberation Serif", "labelExpr": "datum.value == 0 ? '0.0' : replace(format(datum.value, '~g'), '\u2212', '-')", "title": "β₄", "titleFont": "Liberation Serif", "titleFontStyle": "italic"}}
   }},
  {"mark": {"type": "point", "opacity": 0},
   "encoding": {
    "x": {"field": "A", "type": "quantitative", "scale": {"domain": [0, 300], "nice": false, "zero": false}, "axis": {"orient": "bottom", "values": [0, 50, 100, 150, 200, 250, 300], "tickSize": -7, "labels": false, "domain": false, "title": null}},
    "y": {"field": "v", "type": "quantitative", "scale": {"domain": [-0.1, 0.12], "nice": false, "zero": false}, "axis": {"orient": "left", "values": [-0.1, -0.075, -0.05, -0.025, 0, 0.025, 0.05, 0.075, 0.1], "tickSize": -7, "labels": false, "domain": false, "title": null}}
   }},
  {"mark": {"type": "point", "opacity": 0},
   "encoding": {
    "x": {"field": "A", "type": "quantitative", "scale": {"domain": [0, 300], "nice": false, "zero": false}, "axis": {"orient": "bottom", "values": [25, 75, 125, 175, 225, 275], "tickSize": -4, "labels": false, "domain": false, "title": null}},
    "y": {"field": "v", "type": "quantitative", "scale": {"domain": [-0.1, 0.12], "nice": false, "zero": false}, "axis": {"orient": "left", "values": [-0.1, -0.075, -0.05, -0.025, 0, 0.025, 0.05, 0.075, 0.1], "tickSize": -7, "labels": false, "domain": false, "title": null}}
   }},
  {"mark": {"type": "point", "opacity": 0},
   "encoding": {
    "x": {"field": "A", "type": "quantitative", "scale": {"domain": [0, 300], "nice": false, "zero": false}, "axis": {"orient": "top", "values": [0, 50, 100, 150, 200, 250, 300], "tickSize": -7, "labels": false, "domain": true, "title": null}},
    "y": {"field": "v", "type": "quantitative", "scale": {"domain": [-0.1, 0.12], "nice": false, "zero": false}, "axis": {"orient": "right", "values": [-0.1, -0.075, -0.05, -0.025, 0, 0.025, 0.05, 0.075, 0.1], "tickSize": -7, "labels": false, "domain": true, "title": null}}
   }},
  {"mark": {"type": "point", "opacity": 0},
   "encoding": {
    "x": {"field": "A", "type": "quantitative", "scale": {"domain": [0, 300], "nice": false, "zero": false}, "axis": {"orient": "top", "values": [25, 75, 125, 175, 225, 275], "tickSize": -4, "labels": false, "domain": false, "title": null}},
    "y": {"field": "v", "type": "quantitative", "scale": {"domain": [-0.1, 0.12], "nice": false, "zero": false}, "axis": {"orient": "right", "values": [-0.1, -0.075, -0.05, -0.025, 0, 0.025, 0.05, 0.075, 0.1], "tickSize": -7, "labels": false, "domain": false, "title": null}}
   }},
  {"data": {"values": [{"A": 282, "v": 0.0745, "t": "b)"}]},
   "mark": {"type": "text", "font": "Liberation Serif", "fontSize": 28, "align": "center", "baseline": "middle", "color": "black"},
   "encoding": {
    "x": {"field": "A", "type": "quantitative", "scale": {"domain": [0, 300], "nice": false, "zero": false}, "axis": null},
    "y": {"field": "v", "type": "quantitative", "scale": {"domain": [-0.1, 0.12], "nice": false, "zero": false}, "axis": null},
    "text": {"field": "t"}
   }}
 ],
 "resolve": {"axis": {"x": "independent", "y": "independent"}}
},
{
 "width": 521, "height": 245,
 "data": {"name": "c"},
 "layer": [
  {"mark": {"type": "point", "shape": "M-1,-1L1,1M-1,1L1,-1", "filled": false, "color": "#0000ff", "strokeWidth": 1.8, "size": 30, "opacity": 1, "clip": true},
   "encoding": {
    "x": {"field": "A", "type": "quantitative", "scale": {"domain": [0, 300], "nice": false, "zero": false}, "axis": {"orient": "bottom", "ticks": false, "labels": false, "title": null, "domain": true}},
    "y": {"field": "v", "type": "quantitative", "scale": {"domain": [-0.15, 0.15], "nice": false, "zero": false}, "axis": {"orient": "left", "ticks": false, "domain": true, "values": [-0.1, -0.05, 0, 0.05, 0.1], "labelFont": "Liberation Serif", "labelExpr": "datum.value == 0 ? '0.0' : replace(format(datum.value, '~g'), '\u2212', '-')", "title": "β̃₂", "titleFont": "Liberation Serif", "titleFontStyle": "italic"}}
   }},
  {"mark": {"type": "point", "opacity": 0},
   "encoding": {
    "x": {"field": "A", "type": "quantitative", "scale": {"domain": [0, 300], "nice": false, "zero": false}, "axis": {"orient": "bottom", "values": [0, 50, 100, 150, 200, 250, 300], "tickSize": -7, "labels": false, "domain": false, "title": null}},
    "y": {"field": "v", "type": "quantitative", "scale": {"domain": [-0.15, 0.15], "nice": false, "zero": false}, "axis": {"orient": "left", "values": [-0.15, -0.1, -0.05, 0, 0.05, 0.1, 0.15], "tickSize": -7, "labels": false, "domain": false, "title": null}}
   }},
  {"mark": {"type": "point", "opacity": 0},
   "encoding": {
    "x": {"field": "A", "type": "quantitative", "scale": {"domain": [0, 300], "nice": false, "zero": false}, "axis": {"orient": "bottom", "values": [25, 75, 125, 175, 225, 275], "tickSize": -4, "labels": false, "domain": false, "title": null}},
    "y": {"field": "v", "type": "quantitative", "scale": {"domain": [-0.15, 0.15], "nice": false, "zero": false}, "axis": {"orient": "left", "values": [-0.125, -0.075, -0.025, 0.025, 0.075, 0.125], "tickSize": -4, "labels": false, "domain": false, "title": null}}
   }},
  {"mark": {"type": "point", "opacity": 0},
   "encoding": {
    "x": {"field": "A", "type": "quantitative", "scale": {"domain": [0, 300], "nice": false, "zero": false}, "axis": {"orient": "top", "values": [0, 50, 100, 150, 200, 250, 300], "tickSize": -7, "labels": false, "domain": true, "title": null}},
    "y": {"field": "v", "type": "quantitative", "scale": {"domain": [-0.15, 0.15], "nice": false, "zero": false}, "axis": {"orient": "right", "values": [-0.15, -0.1, -0.05, 0, 0.05, 0.1, 0.15], "tickSize": -7, "labels": false, "domain": true, "title": null}}
   }},
  {"mark": {"type": "point", "opacity": 0},
   "encoding": {
    "x": {"field": "A", "type": "quantitative", "scale": {"domain": [0, 300], "nice": false, "zero": false}, "axis": {"orient": "top", "values": [25, 75, 125, 175, 225, 275], "tickSize": -4, "labels": false, "domain": false, "title": null}},
    "y": {"field": "v", "type": "quantitative", "scale": {"domain": [-0.15, 0.15], "nice": false, "zero": false}, "axis": {"orient": "right", "values": [-0.125, -0.075, -0.025, 0.025, 0.075, 0.125], "tickSize": -4, "labels": false, "domain": false, "title": null}}
   }},
  {"data": {"values": [{"A": 281, "v": 0.0955, "t": "c)"}]},
   "mark": {"type": "text", "font": "Liberation Serif", "fontSize": 28, "align": "center", "baseline": "middle", "color": "black"},
   "encoding": {
    "x": {"field": "A", "type": "quantitative", "scale": {"domain": [0, 300], "nice": false, "zero": false}, "axis": null},
    "y": {"field": "v", "type": "quantitative", "scale": {"domain": [-0.15, 0.15], "nice": false, "zero": false}, "axis": null},
    "text": {"field": "t"}
   }}
 ],
 "resolve": {"axis": {"x": "independent", "y": "independent"}}
},
{
 "width": 521, "height": 245,
 "data": {"name": "d"},
 "layer": [
  {"mark": {"type": "point", "shape": "M-1,-1L1,1M-1,1L1,-1", "filled": false, "color": "#0000ff", "strokeWidth": 1.8, "size": 30, "opacity": 1, "clip": true},
   "encoding": {
    "x": {"field": "A", "type": "quantitative", "scale": {"domain": [0, 300], "nice": false, "zero": false}, "axis": {"orient": "bottom", "ticks": false, "labels": true, "values": [0, 50, 100, 150, 200, 250, 300], "labelFont": "Liberation Serif", "title": "A", "titleFont": "Liberation Serif", "domain": true}},
    "y": {"field": "v", "type": "quantitative", "scale": {"domain": [-0.12, 0.08], "nice": false, "zero": false}, "axis": {"orient": "left", "ticks": false, "domain": true, "values": [-0.12, -0.1, -0.08, -0.06, -0.04, -0.02, 0, 0.02, 0.04, 0.06], "labelFont": "Liberation Serif", "labelExpr": "datum.value == 0 ? '0.0' : replace(format(datum.value, '~g'), '\u2212', '-')", "title": "β̃₄", "titleFont": "Liberation Serif", "titleFontStyle": "italic"}}
   }},
  {"mark": {"type": "point", "opacity": 0},
   "encoding": {
    "x": {"field": "A", "type": "quantitative", "scale": {"domain": [0, 300], "nice": false, "zero": false}, "axis": {"orient": "bottom", "values": [0, 50, 100, 150, 200, 250, 300], "tickSize": -7, "labels": false, "domain": false, "title": null}},
    "y": {"field": "v", "type": "quantitative", "scale": {"domain": [-0.12, 0.08], "nice": false, "zero": false}, "axis": {"orient": "left", "values": [-0.12, -0.1, -0.08, -0.06, -0.04, -0.02, 0, 0.02, 0.04, 0.06, 0.08], "tickSize": -7, "labels": false, "domain": false, "title": null}}
   }},
  {"mark": {"type": "point", "opacity": 0},
   "encoding": {
    "x": {"field": "A", "type": "quantitative", "scale": {"domain": [0, 300], "nice": false, "zero": false}, "axis": {"orient": "bottom", "values": [25, 75, 125, 175, 225, 275], "tickSize": -4, "labels": false, "domain": false, "title": null}},
    "y": {"field": "v", "type": "quantitative", "scale": {"domain": [-0.12, 0.08], "nice": false, "zero": false}, "axis": {"orient": "left", "values": [-0.11, -0.09, -0.07, -0.05, -0.03, -0.01, 0.01, 0.03, 0.05, 0.07], "tickSize": -4, "labels": false, "domain": false, "title": null}}
   }},
  {"mark": {"type": "point", "opacity": 0},
   "encoding": {
    "x": {"field": "A", "type": "quantitative", "scale": {"domain": [0, 300], "nice": false, "zero": false}, "axis": {"orient": "top", "values": [0, 50, 100, 150, 200, 250, 300], "tickSize": -7, "labels": false, "domain": true, "title": null}},
    "y": {"field": "v", "type": "quantitative", "scale": {"domain": [-0.12, 0.08], "nice": false, "zero": false}, "axis": {"orient": "right", "values": [-0.12, -0.1, -0.08, -0.06, -0.04, -0.02, 0, 0.02, 0.04, 0.06, 0.08], "tickSize": -7, "labels": false, "domain": true, "title": null}}
   }},
  {"mark": {"type": "point", "opacity": 0},
   "encoding": {
    "x": {"field": "A", "type": "quantitative", "scale": {"domain": [0, 300], "nice": false, "zero": false}, "axis": {"orient": "top", "values": [25, 75, 125, 175, 225, 275], "tickSize": -4, "labels": false, "domain": false, "title": null}},
    "y": {"field": "v", "type": "quantitative", "scale": {"domain": [-0.12, 0.08], "nice": false, "zero": false}, "axis": {"orient": "right", "values": [-0.11, -0.09, -0.07, -0.05, -0.03, -0.01, 0.01, 0.03, 0.05, 0.07], "tickSize": -4, "labels": false, "domain": false, "title": null}}
   }},
  {"data": {"values": [{"A": 281, "v": 0.0443, "t": "d)"}]},
   "mark": {"type": "text", "font": "Liberation Serif", "fontSize": 28, "align": "center", "baseline": "middle", "color": "black"},
   "encoding": {
    "x": {"field": "A", "type": "quantitative", "scale": {"domain": [0, 300], "nice": false, "zero": false}, "axis": null},
    "y": {"field": "v", "type": "quantitative", "scale": {"domain": [-0.12, 0.08], "nice": false, "zero": false}, "axis": null},
    "text": {"field": "t"}
   }}
 ],
 "resolve": {"axis": {"x": "independent", "y": "independent"}}
}
]
}
